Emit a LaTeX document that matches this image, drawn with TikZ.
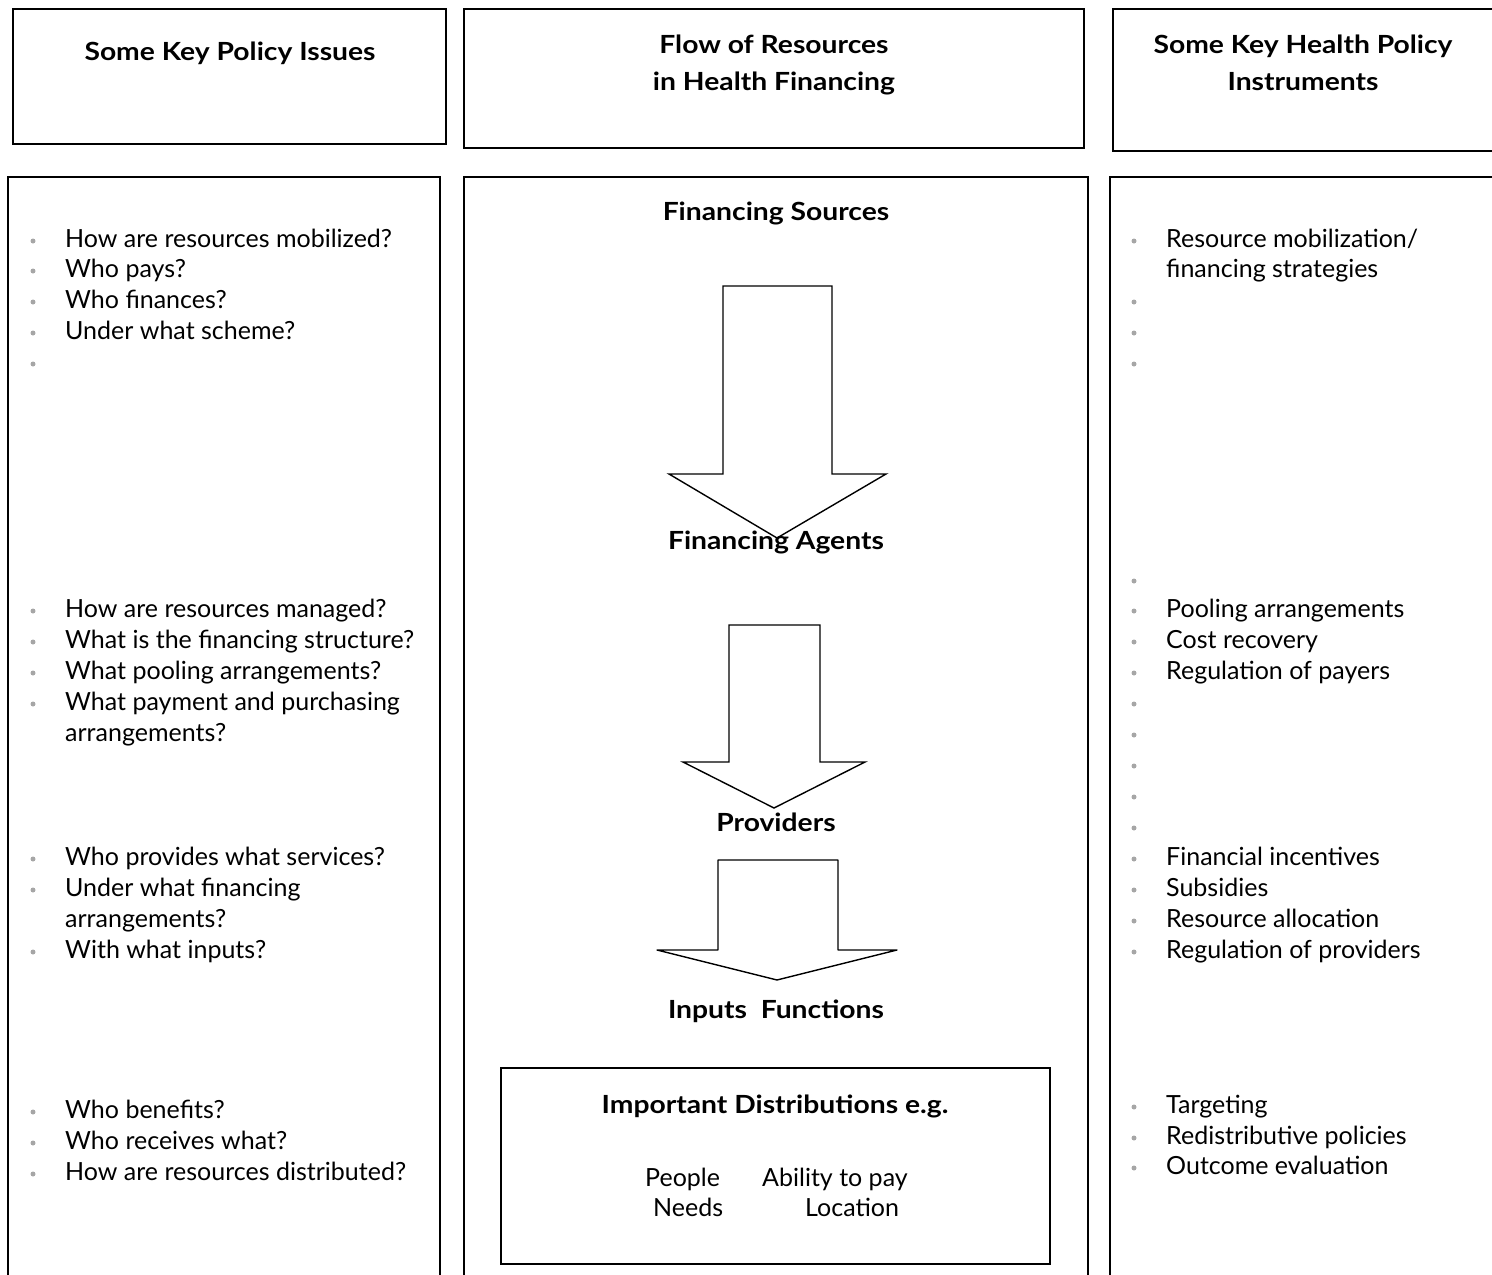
\documentclass[tikz,border=0pt]{standalone}
\usepackage{fontspec}
\setmainfont{Lato}[BoldFeatures={FakeStretch=1.13}]
\newcommand\fsz{\fontsize{25}{29}\selectfont}
\newcommand\itm[4]{\node[dotsty] (#1d) at (#2-32,#3+3) {}; \node[txt] (#1) at (#2,#3+9) {#4};}
\newcommand\emp[3]{\node[dotsty] (#1d) at (#2-32,#3+3) {};}
\newcommand\cont[4]{\node[txt] (#1) at (#2,#3+9) {#4};}
\begin{document}
\begin{tikzpicture}[x=1pt,y=-1pt,
  box/.style={draw=black, line width=1.6pt},
  txt/.style={anchor=base west, inner sep=0pt, font=\fsz},
  ttl/.style={anchor=base, inner sep=0pt, font=\fsz\bfseries},
  dotsty/.style={circle, fill=gray!70, draw=none, inner sep=0pt, minimum size=5pt},
  arr/.style={draw=black, line width=1.4pt, line join=miter}]
\useasboundingbox (0,0) rectangle (1492,1275);
% top boxes
\draw[box] (13,9) rectangle (446,144);
\draw[box] (464,9) rectangle (1084,148);
\draw[box] (1600,9) -- (1113,9) -- (1113,151) -- (1600,151);
% bottom boxes
\draw[box] (8,1300) -- (8,177) -- (440,177) -- (440,1300);
\draw[box] (464,1300) -- (464,177) -- (1088,177) -- (1088,1300);
\draw[box] (1110,1300) -- (1110,177) -- (1600,177);
% titles
\node[ttl] (t1) at (230,60) {Some Key Policy Issues};
\node[ttl] (t2a) at (774,53) {Flow of Resources};
\node[ttl] (t2b) at (774,90) {in Health Financing};
\node[ttl] (t3a) at (1303,53) {Some Key Health Policy};
\node[ttl] (t3b) at (1303,90) {Instruments};
% middle column
\node[ttl] (fs) at (776,220) {Financing Sources};
\draw[arr] (723,286) -- (832,286) -- (832,474) -- (886,474) -- (777,538) -- (669,474) -- (723,474) -- cycle;
\node[ttl] (fa) at (776,549) {Financing Agents};
\draw[arr] (729,625) -- (820,625) -- (820,762) -- (865,762) -- (774,808) -- (683,762) -- (729,762) -- cycle;
\node[ttl] (pr) at (776,831) {Providers};
\draw[arr, line join=round] (718,860) -- (838,860) -- (838,950) -- (897,950) -- (777,980) -- (657,950) -- (718,950) -- cycle;
\node[ttl] (inf) at (776,1018) {Inputs\ \ Functions};
\draw[box] (501,1068) rectangle (1050,1264);
\node[ttl] (idg) at (775,1113) {Important Distributions e.g.};
\node[txt] (pp) at (645,1186) {People};
\node[txt] (ab) at (762,1186) {Ability to pay};
\node[txt] (nd) at (653,1216) {Needs};
\node[txt] (lc) at (805,1216) {Location};
% left column
\itm{a1}{65}{238}{How are resources mobilized?}
\itm{a2}{65}{268}{Who pays?}
\itm{a3}{65}{299}{Who finances?}
\itm{a4}{65}{330}{Under what scheme?}
\emp{a5}{65}{361}
\itm{b1}{65}{608}{How are resources managed?}
\itm{b2}{65}{639}{What is the financing structure?}
\itm{b3}{65}{670}{What pooling arrangements?}
\itm{b4}{65}{701}{What payment and purchasing}
\cont{b5}{65}{732}{arrangements?}
\itm{c1}{65}{856}{Who provides what services?}
\itm{c2}{65}{887}{Under what financing}
\cont{c3}{65}{918}{arrangements?}
\itm{c4}{65}{949}{With what inputs?}
\itm{d1}{65}{1109}{Who benefits?}
\itm{d2}{65}{1140}{Who receives what?}
\itm{d3}{65}{1171}{How are resources distributed?}
% right column
\itm{e1}{1166}{238}{Resource mobilization/}
\cont{e2}{1166}{268}{financing strategies}
\emp{e3}{1166}{299}
\emp{e4}{1166}{330}
\emp{e5}{1166}{361}
\emp{f0}{1166}{578}
\itm{f1}{1166}{608}{Pooling arrangements}
\itm{f2}{1166}{639}{Cost recovery}
\itm{f3}{1166}{670}{Regulation of payers}
\emp{f4}{1166}{701}
\emp{f5}{1166}{732}
\emp{f6}{1166}{763}
\emp{f7}{1166}{794}
\emp{f8}{1166}{825}
\itm{g1}{1166}{856}{Financial incentives}
\itm{g2}{1166}{887}{Subsidies}
\itm{g3}{1166}{918}{Resource allocation}
\itm{g4}{1166}{949}{Regulation of providers}
\itm{h1}{1166}{1104}{Targeting}
\itm{h2}{1166}{1135}{Redistributive policies}
\itm{h3}{1166}{1165}{Outcome evaluation}
\end{tikzpicture}
\end{document}
